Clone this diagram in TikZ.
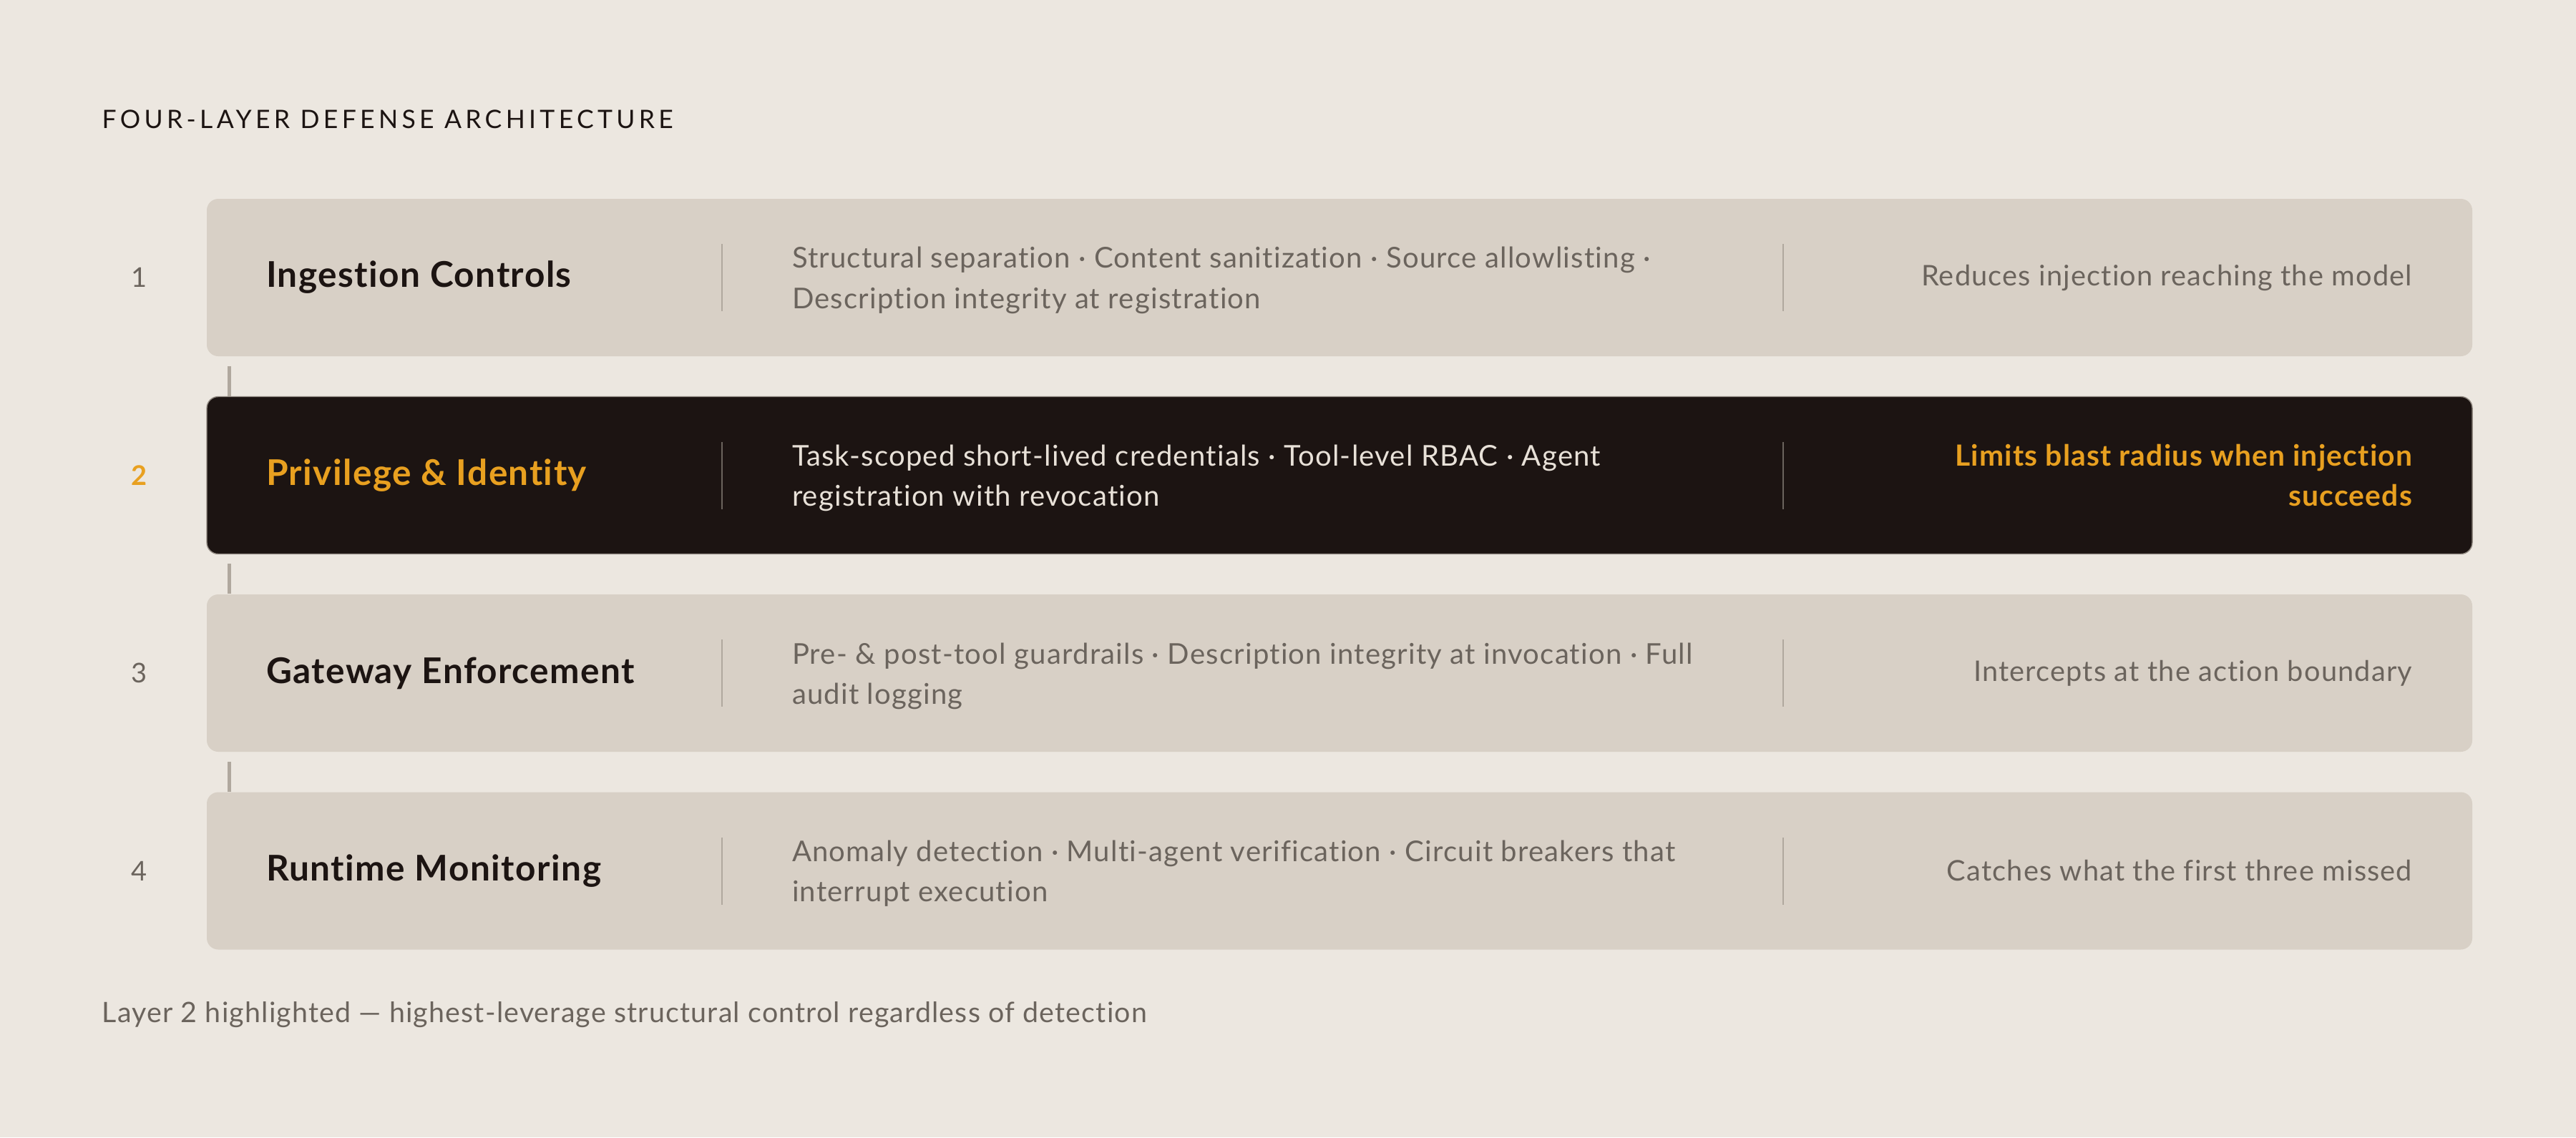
\documentclass[tikz,border=0pt]{standalone}
\usepackage{fontspec}
\setmainfont{Lato}[LetterSpace=3, Ligatures=NoCommon]
\newfontfamily\headfont[LetterSpace=15]{Lato}
\usetikzlibrary{positioning}

\definecolor{paper}{HTML}{ECE7E0}
\definecolor{boxfill}{HTML}{D8D0C6}
\definecolor{ink}{HTML}{1C1412}
\definecolor{amber}{HTML}{E8A020}
\definecolor{muted}{HTML}{6B645D}
\definecolor{pale}{HTML}{E8E1D8}
\definecolor{rule}{HTML}{B0A89E}

\tikzset{
  layer/.style={rounded corners=0.16cm, fill=boxfill, minimum width=31.66cm,
    minimum height=2.2cm, inner sep=0pt},
  hilayer/.style={layer, fill=ink, draw=rule!80!ink, line width=0.4pt},
  num/.style={text=muted, font=\fontsize{10.8}{12}\selectfont},
  layertitle/.style={anchor=west, inner sep=0pt, text=ink,
    font=\bfseries\fontsize{14.1}{16}\selectfont},
  desc/.style={anchor=west, inner sep=0pt, align=left, text=muted, yshift=-0.04cm,
    font=\fontsize{11.4}{16}\selectfont},
  outcome/.style={anchor=east, inner sep=0pt, align=right, text=muted,
    font=\fontsize{11.3}{16}\selectfont},
  divider/.style={draw=rule, line width=0.5pt},
  link/.style={draw=rule, line width=1.4pt},
}

\begin{document}
\begin{tikzpicture}
    \useasboundingbox[fill=paper] (0,0) rectangle (36,-15.9);
    % Heading
    \node[anchor=base west, inner sep=0pt, text=ink, font=\headfont\fontsize{10.1}{12}\selectfont]
      (head) at (1.42,-1.79) {FOUR-LAYER DEFENSE ARCHITECTURE};

    % Layer 1
    \node[layer] (l1) at (18.72,-3.88) {};
    \node[num] (n1) at (1.95,-3.88) {1};
    \node[layertitle, right=0.83cm of l1.west] (t1) {Ingestion Controls};
    \node[desc, right=8.18cm of l1.west] (d1)
      {Structural separation · Content sanitization · Source allowlisting ·\\Description integrity at registration};
    \node[outcome, left=0.84cm of l1.east] (o1) {Reduces injection reaching the model};
    \draw[divider] ([xshift=7.21cm, yshift=0.47cm]l1.west) -- ([xshift=7.21cm, yshift=-0.47cm]l1.west);
    \draw[divider] ([xshift=22.04cm, yshift=0.47cm]l1.west) -- ([xshift=22.04cm, yshift=-0.47cm]l1.west);

    % Layer 2 (highlighted)
    \node[hilayer] (l2) at (18.72,-6.645) {};
    \node[num, text=amber, font=\bfseries\fontsize{10.8}{12}\selectfont] (n2) at (1.95,-6.645) {2};
    \node[layertitle, text=amber, right=0.83cm of l2.west] (t2) {Privilege \& Identity};
    \node[desc, text=pale, right=8.18cm of l2.west] (d2)
      {Task-scoped short-lived credentials · Tool-level RBAC · Agent\\registration with revocation};
    \node[outcome, text=amber, font=\bfseries\fontsize{11.6}{16}\selectfont, left=0.84cm of l2.east] (o2)
      {Limits blast radius when injection\\succeeds};
    \draw[divider, draw=muted] ([xshift=7.21cm, yshift=0.47cm]l2.west) -- ([xshift=7.21cm, yshift=-0.47cm]l2.west);
    \draw[divider, draw=muted] ([xshift=22.04cm, yshift=0.47cm]l2.west) -- ([xshift=22.04cm, yshift=-0.47cm]l2.west);

    % Layer 3
    \node[layer] (l3) at (18.72,-9.41) {};
    \node[num] (n3) at (1.95,-9.41) {3};
    \node[layertitle, right=0.83cm of l3.west] (t3) {Gateway Enforcement};
    \node[desc, right=8.18cm of l3.west] (d3)
      {Pre- \& post-tool guardrails · Description integrity at invocation · Full\\audit logging};
    \node[outcome, left=0.84cm of l3.east] (o3) {Intercepts at the action boundary};
    \draw[divider] ([xshift=7.21cm, yshift=0.47cm]l3.west) -- ([xshift=7.21cm, yshift=-0.47cm]l3.west);
    \draw[divider] ([xshift=22.04cm, yshift=0.47cm]l3.west) -- ([xshift=22.04cm, yshift=-0.47cm]l3.west);

    % Layer 4
    \node[layer] (l4) at (18.72,-12.175) {};
    \node[num] (n4) at (1.95,-12.175) {4};
    \node[layertitle, right=0.83cm of l4.west] (t4) {Runtime Monitoring};
    \node[desc, right=8.18cm of l4.west] (d4)
      {Anomaly detection · Multi-agent verification · Circuit breakers that\\interrupt execution};
    \node[outcome, left=0.84cm of l4.east] (o4) {Catches what the first three missed};
    \draw[divider] ([xshift=7.21cm, yshift=0.47cm]l4.west) -- ([xshift=7.21cm, yshift=-0.47cm]l4.west);
    \draw[divider] ([xshift=22.04cm, yshift=0.47cm]l4.west) -- ([xshift=22.04cm, yshift=-0.47cm]l4.west);

    % Links between layers
    \draw[link] ([xshift=0.32cm, yshift=-0.13cm]l1.south west) -- ([xshift=0.32cm]l2.north west);
    \draw[link] ([xshift=0.32cm, yshift=-0.13cm]l2.south west) -- ([xshift=0.32cm]l3.north west);
    \draw[link] ([xshift=0.32cm, yshift=-0.13cm]l3.south west) -- ([xshift=0.32cm]l4.north west);

    % Footnote
    \node[anchor=base west, inner sep=0pt, text=muted, font=\fontsize{11.2}{12}\selectfont]
      (note) at (1.42,-14.29) {Layer 2 highlighted — highest-leverage structural control regardless of detection};
\end{tikzpicture}
\end{document}
